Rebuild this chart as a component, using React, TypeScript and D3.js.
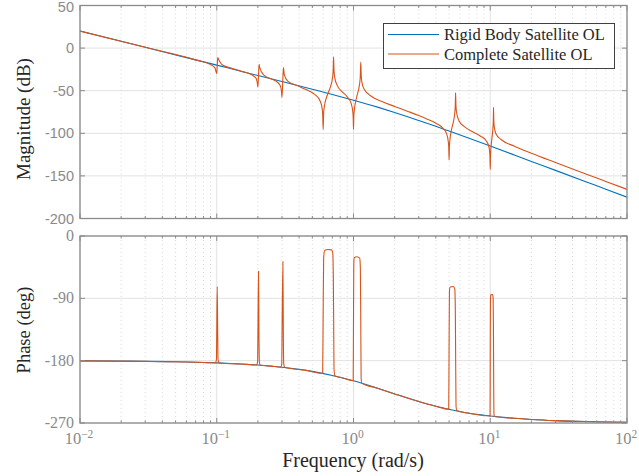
import React, { useEffect, useRef } from 'react';
import * as d3 from 'd3';

// rigid body open loop
const rigidFreq = [0.01, 0.02, 0.03, 0.05, 0.07, 0.1, 0.15, 0.2, 0.3, 0.5, 0.7, 1, 1.5, 2, 3, 4, 5, 7, 10, 15, 20, 30, 50, 70, 100];
const rigidMag = [20, 8, 0.9, -8, -13.8, -20, -27.1, -32.1, -39.2, -48.3, -54.4, -61.2, -69.3, -75.5, -84.9, -91.8, -97.4, -105.9, -115, -125.5, -133, -143.5, -156.8, -165.6, -174.9];
const rigidPhase = [-180.3, -180.6, -181, -181.6, -182.2, -183.2, -184.8, -186.3, -189.5, -195.5, -201.3, -209.1, -219.8, -228, -239, -245.8, -250.2, -256, -259.8, -263.2, -264.9, -266.6, -267.9, -268.5, -269];

// complete satellite open loop, magnitude
const fullMagFreq = [0.01, 0.03, 0.07, 0.09, 0.097, 0.099, 0.1, 0.1008, 0.1017, 0.103, 0.11, 0.13, 0.15, 0.18, 0.194, 0.198, 0.2, 0.202, 0.204, 0.206, 0.22, 0.26, 0.27, 0.291, 0.297, 0.3, 0.3037, 0.3075, 0.312, 0.33, 0.39, 0.45, 0.52, 0.57, 0.59, 0.595, 0.6, 0.605, 0.61, 0.64, 0.68, 0.7, 0.71, 0.715, 0.72, 0.73, 0.76, 0.82, 0.9, 0.96, 0.99, 0.995, 1, 1.005, 1.01, 1.06, 1.1, 1.12, 1.13, 1.14, 1.15, 1.2, 1.35, 1.6, 2, 2.5, 3, 3.5, 4, 4.5, 4.8, 4.95, 4.97, 5, 5.03, 5.05, 5.2, 5.4, 5.5, 5.55, 5.58, 5.61, 5.66, 5.9, 6.5, 7.5, 8.5, 9.3, 9.8, 9.95, 10, 10.05, 10.15, 10.3, 10.45, 10.53, 10.57, 10.61, 10.7, 11, 12, 15, 20, 30, 50, 70, 100];
const fullMag = [20, 0.9, -13.8, -19.4, -23.2, -28.2, -29.7, -21.1, -11.2, -13.0, -19.9, -23.9, -27.0, -31.3, -35.5, -41.0, -45.8, -31.7, -19.1, -22.5, -31.3, -37.3, -38.7, -44.0, -50.0, -57.9, -39.5, -22.7, -31.5, -38.8, -44.2, -48.7, -54.2, -62.0, -71.0, -77.0, -95.4, -76.2, -70.1, -56.2, -44.9, -36.3, -26.2, -10.2, -25.8, -35.0, -43.8, -50.8, -57.2, -64.6, -75.9, -81.8, -95.4, -81.3, -75.1, -56.1, -45.3, -34.6, -16.4, -33.7, -39.3, -48.7, -56.5, -62.4, -68.5, -74.3, -79.2, -83.7, -88.1, -93.9, -100.6, -111.6, -115.8, -131.5, -115.3, -110.6, -96.4, -84.9, -76.4, -67.3, -52.4, -66.6, -74.7, -85.2, -92.5, -98.5, -103.4, -108.4, -116.4, -126.9, -142.4, -125.8, -114.6, -105.1, -95.0, -84.4, -69.6, -83.3, -92.5, -100.5, -107.3, -115.1, -123.3, -134.2, -147.7, -156.5, -165.8];

// complete satellite open loop, phase
const fullPhaseFreq = [0.01, 0.03, 0.07, 0.098, 0.0995, 0.1, 0.1008, 0.1016, 0.1022, 0.104, 0.15, 0.196, 0.199, 0.2, 0.202, 0.2035, 0.205, 0.208, 0.25, 0.294, 0.299, 0.3, 0.3045, 0.307, 0.309, 0.315, 0.45, 0.595, 0.6, 0.605, 0.615, 0.65, 0.69, 0.705, 0.712, 0.716, 0.72, 0.73, 0.85, 0.995, 1, 1.005, 1.015, 1.06, 1.11, 1.122, 1.13, 1.137, 1.15, 1.5, 2, 3, 4, 4.97, 5, 5.03, 5.08, 5.35, 5.5, 5.55, 5.58, 5.62, 5.7, 7, 9.97, 10, 10.03, 10.08, 10.4, 10.5, 10.55, 10.6, 10.65, 10.75, 15, 20, 30, 50, 70, 100];
const fullPhase = [-180.3, -181, -182.2, -183.1, -178, -140, -73, -140, -178, -183.3, -184.8, -186.2, -181, -140, -51, -140, -182, -186.6, -187.9, -189.3, -184, -150, -37, -150, -185, -190, -194, -198.3, -110, -32, -21, -19.5, -20, -24, -60, -120, -190, -201.9, -205.3, -208.9, -120, -40, -31, -30, -32, -45, -120, -205, -212.6, -219.8, -228, -239, -245.8, -250.1, -160, -80, -74, -73, -76, -100, -165, -245, -252.4, -256, -259.8, -170, -95, -85, -84.5, -90, -130, -220, -258, -260.5, -263.2, -264.9, -266.6, -267.9, -268.5, -269];

const magTicks = [50, 0, -50, -100, -150, -200];
const phaseTicks = [0, -90, -180, -270];
const decadeExps = [-2, -1, 0, 1, 2];
const legendLabels = ['Rigid Body Satellite OL', 'Complete Satellite OL'];

const W = 639;
const H = 476;
const BLUE = '#0072BD';
const RED = '#D95319';
const SERIF = '"Liberation Serif", "DejaVu Serif", serif';
const SANS = '"Liberation Sans", Arial, sans-serif';

export default function App() {
  const ref = useRef<SVGSVGElement>(null);

  useEffect(() => {
    const svg = d3.select(ref.current);
    svg.selectAll('*').remove();

    const left = 80;
    const right = 627;
    const x = d3.scaleLog().domain([0.01, 100]).range([left, right]);
    const yMag = d3.scaleLinear().domain([-200, 50]).range([218.5, 5.5]);
    const yPh = d3.scaleLinear().domain([-270, 0]).range([423, 236]);

    const minors: number[] = [];
    decadeExps.slice(0, -1).forEach((e) => {
      for (let k = 2; k <= 9; k++) minors.push(k * Math.pow(10, e));
    });
    const decades = decadeExps.map((e) => Math.pow(10, e));

    const panel = (y: any, ticks: number[], tickFont: string, id: string) => {
      const [y0, y1] = y.range();
      const g = svg.append('g');
      g.append('rect')
        .attr('x', left).attr('y', y1)
        .attr('width', right - left).attr('height', y0 - y1)
        .attr('fill', '#fff');
      // minor grid
      g.selectAll('.mg').data(minors).enter().append('line')
        .attr('x1', (d) => x(d)).attr('x2', (d) => x(d))
        .attr('y1', y1).attr('y2', y0)
        .attr('stroke', '#cfcfcf').attr('stroke-width', 0.8)
        .attr('stroke-dasharray', '1,3');
      // major grid
      g.selectAll('.vg').data(decades).enter().append('line')
        .attr('x1', (d) => x(d)).attr('x2', (d) => x(d))
        .attr('y1', y1).attr('y2', y0)
        .attr('stroke', '#e2e2e2').attr('stroke-width', 1);
      g.selectAll('.hg').data(ticks).enter().append('line')
        .attr('x1', left).attr('x2', right)
        .attr('y1', (d) => y(d)).attr('y2', (d) => y(d))
        .attr('stroke', '#e2e2e2').attr('stroke-width', 1);

      svg.append('clipPath').attr('id', id).append('rect')
        .attr('x', left).attr('y', y1)
        .attr('width', right - left).attr('height', y0 - y1);

      // tick labels
      g.selectAll('.yl').data(ticks).enter().append('text')
        .attr('x', 74).attr('y', (d) => Math.max(y(d) + 5, 11.5))
        .attr('text-anchor', 'end')
        .style('font-family', tickFont)
        .style('font-size', tickFont === SANS ? '14.5px' : '16px')
        .style('fill', '#8a8a8a')
        .text((d) => String(d));
      return g;
    };

    const frame = (g: any, y: any, ticks: number[]) => {
      const [y0, y1] = y.range();
      const tk = g.append('g').attr('stroke', '#8a8a8a').attr('stroke-width', 1);
      decades.forEach((d) => {
        tk.append('line').attr('x1', x(d)).attr('x2', x(d)).attr('y1', y0).attr('y2', y0 - 5);
        tk.append('line').attr('x1', x(d)).attr('x2', x(d)).attr('y1', y1).attr('y2', y1 + 5);
      });
      minors.forEach((d) => {
        tk.append('line').attr('x1', x(d)).attr('x2', x(d)).attr('y1', y0).attr('y2', y0 - 2.5);
        tk.append('line').attr('x1', x(d)).attr('x2', x(d)).attr('y1', y1).attr('y2', y1 + 2.5);
      });
      ticks.forEach((d) => {
        tk.append('line').attr('x1', left).attr('x2', left + 5).attr('y1', y(d)).attr('y2', y(d));
        tk.append('line').attr('x1', right).attr('x2', right - 5).attr('y1', y(d)).attr('y2', y(d));
      });
      g.append('rect')
        .attr('x', left).attr('y', y1)
        .attr('width', right - left).attr('height', y0 - y1)
        .attr('fill', 'none').attr('stroke', '#8a8a8a').attr('stroke-width', 1.3);
    };

    const curve = (freq: number[], vals: number[], y: any) =>
      d3.line<number>()
        .x((d, i) => x(freq[i]))
        .y((d) => y(d))
        .curve(d3.curveMonotoneX)(vals);

    // magnitude panel
    const gm = panel(yMag, magTicks, SANS, 'clipMag');
    const lm = gm.append('g').attr('clip-path', 'url(#clipMag)');
    lm.append('path').attr('d', curve(rigidFreq, rigidMag, yMag))
      .attr('fill', 'none').attr('stroke', BLUE).attr('stroke-width', 1.1);
    lm.append('path').attr('d', curve(fullMagFreq, fullMag, yMag))
      .attr('fill', 'none').attr('stroke', RED).attr('stroke-width', 1.1);
    frame(gm, yMag, magTicks);

    // phase panel
    const gp = panel(yPh, phaseTicks, SERIF, 'clipPh');
    const lp = gp.append('g').attr('clip-path', 'url(#clipPh)');
    lp.append('path').attr('d', curve(rigidFreq, rigidPhase, yPh))
      .attr('fill', 'none').attr('stroke', BLUE).attr('stroke-width', 1.1);
    lp.append('path').attr('d', curve(fullPhaseFreq, fullPhase, yPh))
      .attr('fill', 'none').attr('stroke', RED).attr('stroke-width', 1.1);
    frame(gp, yPh, phaseTicks);

    // x tick labels 10^n
    decadeExps.forEach((e) => {
      const t = svg.append('text')
        .attr('x', x(Math.pow(10, e)) - 1)
        .attr('y', 444)
        .attr('text-anchor', 'middle')
        .style('font-family', SERIF)
        .style('fill', '#8a8a8a');
      t.append('tspan').style('font-size', '16.5px').text('10');
      t.append('tspan').attr('dy', -6).style('font-size', '11.5px')
        .text(e < 0 ? '\u2212' + Math.abs(e) : String(e));
    });

    // axis titles
    svg.append('text')
      .attr('x', 353).attr('y', 467)
      .attr('text-anchor', 'middle')
      .style('font-family', SERIF).style('font-size', '20px').style('fill', '#262626')
      .text('Frequency (rad/s)');
    svg.append('text')
      .attr('transform', 'translate(30,119) rotate(-90)')
      .attr('text-anchor', 'middle')
      .style('font-family', SERIF).style('font-size', '19px').style('fill', '#262626')
      .text('Magnitude (dB)');
    svg.append('text')
      .attr('transform', 'translate(30,330) rotate(-90)')
      .attr('text-anchor', 'middle')
      .style('font-family', SERIF).style('font-size', '18.5px').style('fill', '#262626')
      .text('Phase (deg)');

    // legend
    const lg = svg.append('g');
    lg.append('rect')
      .attr('x', 383.5).attr('y', 23.5).attr('width', 231).attr('height', 45)
      .attr('fill', '#fff').attr('stroke', '#404040').attr('stroke-width', 1);
    const legColors = [BLUE, RED];
    const leg = lg.selectAll('.legend').data(legendLabels).enter().append('g')
      .attr('transform', (d, i) => `translate(0,${34.5 + i * 19.5})`);
    leg.append('line')
      .attr('x1', 388).attr('x2', 439).attr('y1', 0).attr('y2', 0)
      .attr('stroke', (d, i) => legColors[i]).attr('stroke-width', 1.1);
    leg.append('text')
      .attr('x', 444).attr('y', 5.5)
      .style('font-family', SERIF).style('font-size', '16.5px').style('fill', '#262626')
      .text((d) => d);
  }, []);

  return (
    <svg
      ref={ref}
      width={W}
      height={H}
      style={{ position: 'absolute', left: 0, top: 0, background: '#fff' }}
    />
  );
}
